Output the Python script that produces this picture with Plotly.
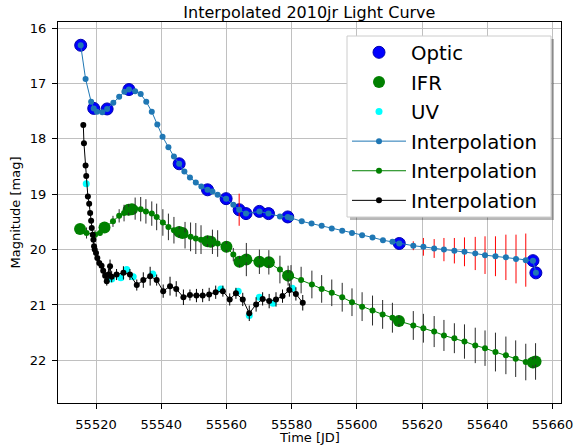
import plotly.graph_objects as go

# ---------------- data ----------------
optic_t = [55515.3, 55519.3, 55523.4, 55530.1, 55545.5, 55554.2, 55559.9, 55563.9,
           55566.0, 55570.1, 55572.9, 55578.8, 55613.0, 55654.0, 55654.9]
optic_mag = [16.31, 17.45, 17.46, 17.11, 18.45, 18.92, 19.08, 19.28,
             19.35, 19.31, 19.35, 19.41, 19.89, 20.20, 20.42]

ifr_t = [55515.1, 55522.6, 55530.0, 55531.0, 55545.5, 55546.5, 55554.2, 55555.2,
         55560.0, 55564.0, 55566.1, 55570.1, 55573.0, 55578.9, 55612.9, 55654.0, 55654.8]
ifr_mag = [19.63, 19.60, 19.28, 19.27, 19.68, 19.70, 19.85, 19.86,
           19.95, 20.22, 20.18, 20.22, 20.23, 20.47, 21.29, 22.04, 22.02]

uv_t = [55517.0, 55524.8, 55527.6, 55529.4, 55531.4, 55537.4, 55558.3, 55563.6,
        55567.0, 55570.1, 55574.3, 55580.2]
uv_mag = [18.81, 20.53, 20.51, 20.36, 20.49, 20.44, 20.71, 20.75,
          21.19, 20.86, 20.97, 20.70]

interp_opt_t = [55515.3, 55516.8, 55518.5, 55519.3, 55520.3, 55521.9, 55523.4, 55525.3,
                55527.1, 55528.7, 55530.1, 55532.0, 55533.7, 55535.4, 55537.1, 55538.8,
                55540.4, 55542.2, 55543.9, 55545.5, 55547.1, 55548.8, 55550.6, 55552.3,
                55554.2, 55555.7, 55557.3, 55559.9, 55562.1, 55563.9, 55566.0, 55570.1,
                55572.9, 55576.4, 55578.8, 55579.8, 55583.1, 55586.1, 55589.2, 55592.3,
                55595.5, 55598.5, 55601.6, 55604.8, 55608.0, 55610.9, 55613.0, 55617.3,
                55620.4, 55623.7, 55626.7, 55629.9, 55633.0, 55636.3, 55639.3, 55642.5,
                55645.7, 55648.8, 55651.8, 55654.0, 55654.9]
interp_opt_mag = [16.31, 16.92, 17.33, 17.45, 17.51, 17.52, 17.46, 17.35,
                  17.24, 17.15, 17.11, 17.14, 17.19, 17.33, 17.51, 17.74,
                  17.96, 18.15, 18.32, 18.45, 18.59, 18.70, 18.79, 18.86,
                  18.92, 18.95, 19.01, 19.08, 19.19, 19.28, 19.35, 19.31,
                  19.35, 19.40, 19.41, 19.43, 19.49, 19.53, 19.57, 19.62,
                  19.66, 19.70, 19.74, 19.78, 19.83, 19.86, 19.89, 19.93,
                  19.95, 19.98, 20.00, 20.02, 20.04, 20.07, 20.10, 20.12,
                  20.14, 20.17, 20.19, 20.20, 20.42]
interp_opt_err = [0, 0, 0, 0, 0, 0, 0, 0,
                  0, 0, 0, 0, 0, 0, 0, 0,
                  0, 0, 0, 0, 0, 0, 0, 0,
                  0, 0, 0, 0, 0, 0.29, 0, 0,
                  0, 0, 0, 0, 0, 0, 0, 0,
                  0, 0, 0, 0, 0, 0, 0, 0.08,
                  0.16, 0.17, 0.21, 0.23, 0.26, 0.30, 0.34, 0.36,
                  0.41, 0.44, 0.48, 0, 0]

interp_ifr_t = [55515.1, 55517.1, 55519.7, 55521.2, 55523.1, 55525.2, 55527.1, 55528.6,
                55530.0, 55532.0, 55533.7, 55535.3, 55537.1, 55538.6, 55540.5, 55542.2,
                55543.9, 55545.5, 55547.3, 55549.0, 55550.6, 55552.2, 55554.2, 55555.7,
                55557.3, 55560.0, 55562.1, 55564.0, 55566.1, 55570.1, 55573.0, 55576.4,
                55578.9, 55579.8, 55582.9, 55586.2, 55589.2, 55592.3, 55595.5, 55598.5,
                55601.6, 55604.8, 55607.9, 55610.9, 55612.9, 55617.3, 55620.4, 55623.7,
                55626.7, 55629.9, 55633.0, 55636.3, 55639.3, 55642.5, 55645.7, 55648.7,
                55651.8, 55654.0, 55654.8]
interp_ifr_mag = [19.63, 19.70, 19.73, 19.70, 19.59, 19.49, 19.39, 19.34,
                  19.28, 19.26, 19.27, 19.31, 19.35, 19.41, 19.51, 19.59,
                  19.65, 19.68, 19.74, 19.77, 19.80, 19.82, 19.85, 19.86,
                  19.89, 19.95, 20.09, 20.22, 20.18, 20.22, 20.23, 20.36,
                  20.47, 20.48, 20.55, 20.63, 20.71, 20.78, 20.86, 20.95,
                  21.03, 21.10, 21.17, 21.23, 21.29, 21.37, 21.42, 21.48,
                  21.55, 21.60, 21.66, 21.73, 21.78, 21.85, 21.91, 21.97,
                  22.03, 22.04, 22.02]
interp_ifr_err = [0.04, 0.10, 0.08, 0.05, 0.05, 0.10, 0.12, 0.15,
                  0.10, 0.20, 0.22, 0.22, 0.22, 0.24, 0.24, 0.24,
                  0.24, 0.10, 0.24, 0.26, 0.28, 0.26, 0.10, 0.22,
                  0.24, 0.10, 0.12, 0.10, 0.30, 0.22, 0.22, 0.25,
                  0.18, 0.20, 0.24, 0.25, 0.25, 0.24, 0.26, 0.25,
                  0.26, 0.27, 0.26, 0.27, 0.10, 0.26, 0.26, 0.28,
                  0.28, 0.27, 0.31, 0.32, 0.32, 0.35, 0.34, 0.33,
                  0.33, 0.10, 0.33]

interp_uv_t = [55516.1, 55516.3, 55516.8, 55517.0, 55517.5, 55517.9, 55518.2, 55518.5,
               55518.7, 55519.0, 55519.2, 55519.4, 55519.6, 55520.0, 55520.4, 55521.0,
               55521.7, 55522.2, 55522.8, 55523.3, 55523.8, 55524.3, 55524.8, 55526.3,
               55528.4, 55530.4, 55532.5, 55534.5, 55536.6, 55538.6, 55540.6, 55542.7,
               55544.6, 55546.8, 55548.8, 55550.8, 55552.7, 55554.7, 55556.7, 55558.9,
               55561.0, 55562.9, 55565.0, 55567.0, 55569.1, 55571.1, 55573.1, 55575.2,
               55577.2, 55579.3, 55581.3, 55583.4]
interp_uv_mag = [17.75, 18.08, 18.48, 18.67, 19.04, 19.17, 19.34, 19.48,
                 19.61, 19.73, 19.82, 19.94, 20.00, 20.06, 20.15, 20.24,
                 20.29, 20.38, 20.47, 20.57, 20.45, 20.30, 20.49, 20.45,
                 20.42, 20.45, 20.64, 20.55, 20.48, 20.55, 20.75, 20.66,
                 20.71, 20.86, 20.82, 20.83, 20.83, 20.81, 20.77, 20.75,
                 20.90, 20.79, 20.90, 21.15, 20.99, 20.89, 20.93, 20.90,
                 20.84, 20.73, 20.80, 20.96]
interp_uv_err = [0.04, 0.04, 0.04, 0.03, 0.04, 0.04, 0.04, 0.04,
                 0.04, 0.04, 0.05, 0.05, 0.05, 0.05, 0.06, 0.06,
                 0.07, 0.07, 0.08, 0.08, 0.10, 0.12, 0.10, 0.10,
                 0.12, 0.10, 0.10, 0.14, 0.17, 0.10, 0.12, 0.17,
                 0.14, 0.14, 0.10, 0.12, 0.12, 0.12, 0.12, 0.10,
                 0.11, 0.10, 0.12, 0.14, 0.13, 0.12, 0.13, 0.13,
                 0.12, 0.12, 0.12, 0.14]

x_ticks = [55520, 55540, 55560, 55580, 55600, 55620, 55640, 55660]
y_ticks = [16, 17, 18, 19, 20, 21, 22]

FONT = "DejaVu Sans"

fig = go.Figure()
fig.add_trace(go.Scatter(x=optic_t, y=optic_mag, mode="markers", name="Optic",
                         legendgroup="g1",
                         marker=dict(color="#0000ff", size=12,
                                     line=dict(color="#0000b0", width=1))))
fig.add_trace(go.Scatter(x=ifr_t, y=ifr_mag, mode="markers", name="IFR",
                         legendgroup="g2",
                         marker=dict(color="#008000", size=12, line=dict(width=0))))
fig.add_trace(go.Scatter(x=uv_t, y=uv_mag, mode="markers", name="UV",
                         legendgroup="g3",
                         marker=dict(color="#00ffff", size=7, line=dict(width=0))))
fig.add_trace(go.Scatter(x=interp_opt_t, y=interp_opt_mag, mode="lines+markers",
                         name="Interpolation", legendgroup="g4",
                         line=dict(color="#1f77b4", width=1),
                         marker=dict(color="#1f77b4", size=6),
                         error_y=dict(type="data", array=interp_opt_err, color="red",
                                      thickness=1, width=0)))
fig.add_trace(go.Scatter(x=interp_ifr_t, y=interp_ifr_mag, mode="lines+markers",
                         name="Interpolation", legendgroup="g5",
                         line=dict(color="#008000", width=1),
                         marker=dict(color="#008000", size=6),
                         error_y=dict(type="data", array=interp_ifr_err, color="#2a2a2a",
                                      thickness=1, width=0)))
fig.add_trace(go.Scatter(x=interp_uv_t, y=interp_uv_mag, mode="lines+markers",
                         name="Interpolation", legendgroup="g6",
                         line=dict(color="black", width=1),
                         marker=dict(color="black", size=6),
                         error_y=dict(type="data", array=interp_uv_err, color="black",
                                      thickness=1, width=0)))

axis_common = dict(showgrid=True, gridcolor="#c0c0c0", gridwidth=1,
                   showline=True, linecolor="black", linewidth=1, mirror=True,
                   ticks="outside", ticklen=5, tickcolor="black", automargin=False,
                   zeroline=False, tickfont=dict(family=FONT, size=13, color="black"))


def px_x(p):
    return (p - 58) / 503


def px_y(p):
    return 1 - (p - 22) / 381


# legend frame drawn as shapes: drop shadow then white box with light border
legend_shadow = dict(type="rect", xref="paper", yref="paper",
                     x0=px_x(350), x1=px_x(554), y0=px_y(220), y1=px_y(39),
                     line=dict(width=0), fillcolor="rgba(0,0,0,0.28)", layer="above")
legend_box = dict(type="rect", xref="paper", yref="paper",
                  x0=px_x(347), x1=px_x(551), y0=px_y(217), y1=px_y(36),
                  line=dict(width=1, color="#cccccc"), fillcolor="white", layer="above")

fig.update_layout(
    width=575, height=446,
    margin=dict(l=58, r=14, t=22, b=43),
    paper_bgcolor="white", plot_bgcolor="white",
    font=dict(family=FONT, color="black"),
    title=dict(text="Interpolated 2010jr Light Curve", x=0.538, xanchor="center",
               y=0.973, yanchor="middle", yref="container",
               font=dict(family=FONT, size=16, color="black")),
    xaxis=dict(range=[55508.34, 55662.6], tickvals=x_ticks,
               ticktext=[str(v) for v in x_ticks], ticklabelstandoff=4,
               **axis_common),
    yaxis=dict(range=[22.77, 15.89], tickvals=y_ticks,
               ticktext=[str(v) for v in y_ticks], ticklabelstandoff=3,
               **axis_common),
    shapes=[legend_shadow, legend_box],
    annotations=[
        dict(text="Time [JD]", xref="paper", yref="paper", x=0.5, y=0,
             xanchor="center", yanchor="middle", yshift=-34, showarrow=False,
             font=dict(family=FONT, size=13, color="black")),
        dict(text="Magnitude [mag]", xref="paper", yref="paper", x=0, y=0.5,
             xanchor="center", yanchor="middle", xshift=-43, textangle=-90,
             showarrow=False, font=dict(family=FONT, size=13, color="black")),
    ],
    legend=dict(x=px_x(347), y=px_y(33), xanchor="left", yanchor="top",
                font=dict(family=FONT, size=19.7, color="black"),
                bgcolor="rgba(0,0,0,0)", borderwidth=0, tracegroupgap=1,
                itemwidth=54, itemsizing="trace"),
    showlegend=True,
)

fig.write_html("out.html")
